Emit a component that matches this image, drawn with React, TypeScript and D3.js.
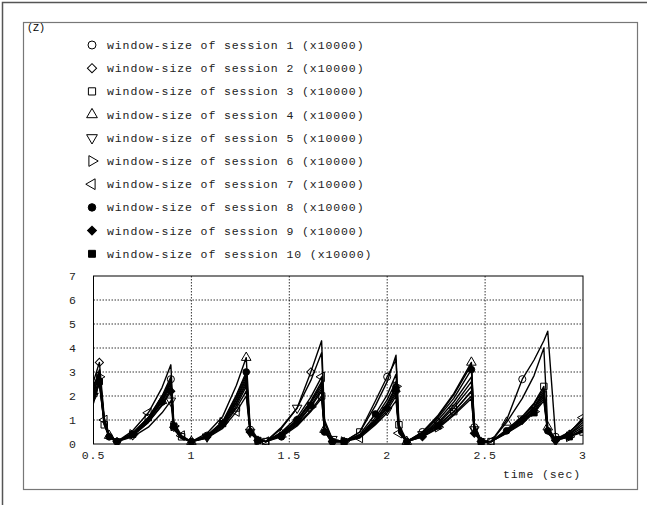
import * as d3 from "d3";

// sample times (sec), shared by all sessions
const times = [
  0.5, 0.53, 0.555, 0.58, 0.62, 0.7, 0.78, 0.85, 0.895, 0.91, 0.95, 1.0, 1.08, 1.16, 1.23, 1.28,
  1.3, 1.34, 1.38, 1.46, 1.54, 1.61, 1.665, 1.68, 1.72, 1.78, 1.86, 1.94, 2.0, 2.045, 2.06, 2.1,
  2.18, 2.26, 2.34, 2.43, 2.445, 2.48, 2.53, 2.61, 2.69, 2.75, 2.8, 2.82, 2.86, 2.93, 3.0,
];

// window sizes (x10000) per session
const session1 = [2.2, 2.9, 1.0, 0.3, 0.1, 0.45, 1.1, 1.95, 2.7, 0.8, 0.3, 0.1, 0.35, 0.9, 2.0, 2.9, 0.6, 0.15, 0.1, 0.45, 1.0, 1.8, 2.6, 0.6, 0.1, 0.1, 0.5, 1.8, 2.8, 3.5, 0.7, 0.1, 0.5, 1.15, 2.05, 3.3, 0.7, 0.1, 0.1, 1.0, 2.7, 3.5, 4.3, 4.7, 0.3, 0.3, 0.6];
const session2 = [2.6, 3.4, 1.1, 0.4, 0.1, 0.35, 0.9, 1.65, 2.3, 0.7, 0.25, 0.1, 0.3, 0.85, 1.75, 2.6, 0.5, 0.15, 0.1, 0.7, 1.5, 3.0, 4.3, 1.0, 0.2, 0.1, 0.3, 0.95, 1.55, 2.2, 0.5, 0.1, 0.4, 0.9, 1.6, 2.6, 0.6, 0.1, 0.1, 0.5, 1.0, 1.5, 2.1, 0.5, 0.15, 0.4, 0.9];
const session3 = [1.8, 2.6, 0.8, 0.3, 0.1, 0.45, 1.1, 2.0, 2.8, 0.8, 0.3, 0.1, 0.25, 0.7, 1.5, 2.2, 0.5, 0.15, 0.1, 0.35, 0.8, 1.4, 2.0, 0.5, 0.1, 0.1, 0.5, 1.6, 2.6, 3.7, 0.8, 0.15, 0.35, 0.8, 1.35, 2.2, 0.5, 0.1, 0.1, 0.6, 1.15, 1.7, 2.4, 0.6, 0.2, 0.3, 0.5];
const session4 = [2.4, 3.0, 1.0, 0.35, 0.1, 0.4, 1.0, 1.8, 2.5, 0.7, 0.3, 0.1, 0.45, 1.15, 2.45, 3.6, 0.7, 0.2, 0.1, 0.4, 0.95, 1.7, 2.4, 0.6, 0.1, 0.1, 0.35, 1.1, 1.85, 2.6, 0.6, 0.1, 0.5, 1.2, 2.1, 3.4, 0.8, 0.15, 0.1, 0.9, 1.9, 2.85, 4.0, 0.7, 0.2, 0.5, 1.0];
const session5 = [2.0, 2.7, 0.9, 0.3, 0.1, 0.3, 0.7, 1.3, 1.8, 0.6, 0.25, 0.1, 0.3, 0.75, 1.6, 2.4, 0.5, 0.15, 0.1, 0.65, 1.5, 2.65, 3.8, 0.9, 0.2, 0.1, 0.3, 0.85, 1.4, 2.0, 0.5, 0.1, 0.4, 1.0, 1.75, 2.8, 0.6, 0.1, 0.1, 0.55, 1.05, 1.55, 2.2, 0.5, 0.15, 0.35, 0.7];
const session6 = [2.5, 2.8, 0.9, 0.3, 0.1, 0.4, 1.05, 1.85, 2.6, 0.75, 0.3, 0.1, 0.35, 0.9, 1.9, 2.8, 0.55, 0.15, 0.1, 0.35, 0.85, 1.55, 2.2, 0.55, 0.1, 0.1, 0.35, 1.0, 1.7, 2.4, 0.55, 0.1, 0.3, 0.7, 1.25, 2.0, 0.5, 0.1, 0.1, 0.45, 0.9, 1.35, 1.9, 0.45, 0.15, 0.3, 0.6];
const session7 = [2.3, 3.1, 1.0, 0.35, 0.1, 0.55, 1.3, 2.35, 3.3, 0.9, 0.35, 0.1, 0.25, 0.65, 1.35, 2.0, 0.45, 0.15, 0.1, 0.5, 1.1, 1.95, 2.8, 0.7, 0.15, 0.1, 0.25, 0.8, 1.3, 1.8, 0.45, 0.1, 0.35, 0.85, 1.5, 2.4, 0.55, 0.1, 0.1, 0.5, 0.95, 1.4, 2.0, 0.5, 0.15, 0.45, 1.1];
const session8 = [1.9, 2.5, 0.8, 0.3, 0.1, 0.4, 0.95, 1.75, 2.4, 0.7, 0.25, 0.1, 0.35, 0.95, 2.05, 3.0, 0.6, 0.2, 0.1, 0.3, 0.75, 1.35, 1.9, 0.5, 0.1, 0.1, 0.4, 1.25, 2.05, 2.9, 0.65, 0.1, 0.45, 1.1, 1.9, 3.1, 0.7, 0.15, 0.1, 0.55, 1.1, 1.65, 2.3, 0.55, 0.2, 0.4, 0.8];
const session9 = [2.1, 2.9, 0.95, 0.3, 0.1, 0.35, 0.9, 1.6, 2.2, 0.65, 0.25, 0.1, 0.3, 0.8, 1.7, 2.5, 0.5, 0.15, 0.1, 0.45, 1.0, 1.75, 2.5, 0.6, 0.1, 0.1, 0.3, 0.9, 1.5, 2.1, 0.5, 0.1, 0.3, 0.65, 1.2, 1.9, 0.45, 0.1, 0.1, 0.5, 1.0, 1.5, 2.1, 0.5, 0.15, 0.5, 1.0];
const session10 = [1.7, 2.6, 0.85, 0.3, 0.1, 0.4, 1.05, 1.85, 2.6, 0.75, 0.3, 0.1, 0.3, 0.85, 1.85, 2.7, 0.55, 0.15, 0.1, 0.4, 0.9, 1.6, 2.3, 0.55, 0.1, 0.1, 0.3, 1.0, 1.65, 2.3, 0.55, 0.1, 0.35, 0.75, 1.35, 2.2, 0.5, 0.1, 0.1, 0.45, 0.85, 1.3, 1.8, 0.45, 0.15, 0.3, 0.55];

const sessions = [session1, session2, session3, session4, session5, session6, session7, session8, session9, session10];
const labels = sessions.map((_, i) => `window-size of session ${i + 1} (x10000)`);

const xTicks = [0.5, 1, 1.5, 2, 2.5, 3];
const yTicks = [0, 1, 2, 3, 4, 5, 6, 7];

// marker shape, rotation, filled, size
const markers: [d3.SymbolType, number, boolean, number][] = [
  [d3.symbolCircle, 0, false, 50],
  [d3.symbolSquare, 45, false, 42],
  [d3.symbolSquare, 0, false, 52],
  [d3.symbolTriangle, 0, false, 50],
  [d3.symbolTriangle, 180, false, 50],
  [d3.symbolTriangle, 90, false, 50],
  [d3.symbolTriangle, -90, false, 50],
  [d3.symbolCircle, 0, true, 44],
  [d3.symbolSquare, 45, true, 40],
  [d3.symbolSquare, 0, true, 48],
];

const font = "'Liberation Mono', 'DejaVu Sans Mono', monospace";

function Marker({ k, x, y, scale = 1 }: { k: number; x: number; y: number; scale?: number }) {
  const [type, rot, filled, size] = markers[k];
  const d = d3.symbol().type(type).size(size * scale)()!;
  return (
    <path
      d={d}
      transform={`translate(${x},${y}) rotate(${rot})`}
      fill={filled ? "#000" : "none"}
      stroke="#000"
      strokeWidth={1}
    />
  );
}

export default function App() {
  const width = 647;
  const height = 505;
  const x = d3.scaleLinear().domain([0.5, 3]).range([93.5, 583]);
  const y = d3.scaleLinear().domain([0, 7]).range([444, 276]);

  const line = d3
    .line<number>()
    .x((_, i) => x(times[i]))
    .y((d) => y(d));

  return (
    <svg
      width={width}
      height={height}
      style={{ position: "absolute", left: 0, top: 0, background: "#fff" }}
      fontFamily={font}
      fontSize={11.5}
    >
      {/* outer frame */}
      <rect x={2.5} y={2.5} width={660} height={520} fill="none" stroke="#555" strokeWidth={1.5} />
      {/* inner frame */}
      <rect x={23.5} y={22.5} width={614} height={467} fill="none" stroke="#777" strokeWidth={1.2} />

      <text x={27} y={31} fontSize={10}>(Z)</text>

      {/* legend */}
      {labels.map((l, i) => {
        const ly = 45 + i * 23.2;
        return (
          <g key={l}>
            <Marker k={i} x={92} y={ly} />
            <text x={107} y={ly + 4} fill="#222" letterSpacing={0.9}>
              {l}
            </text>
          </g>
        );
      })}

      {/* grid */}
      {xTicks.slice(1, -1).map((t) => (
        <line key={"gx" + t} x1={x(t)} x2={x(t)} y1={y(7)} y2={y(0)} stroke="#000" strokeWidth={0.8} strokeDasharray="1.5,1.5" />
      ))}
      {yTicks.slice(1, -1).map((t) => (
        <line key={"gy" + t} x1={x(0.5)} x2={x(3)} y1={y(t)} y2={y(t)} stroke="#000" strokeWidth={0.8} strokeDasharray="1.5,1.5" />
      ))}

      {/* tick labels */}
      {yTicks.map((t) => (
        <text key={"yl" + t} x={76} y={y(t) + 4} textAnchor="end" fill="#222">
          {t}
        </text>
      ))}
      {xTicks.map((t) => (
        <text key={"xl" + t} x={x(t)} y={459} textAnchor="middle" fill="#222" letterSpacing={0.9}>
          {t}
        </text>
      ))}
      <text x={581} y={478} textAnchor="end" fill="#222" letterSpacing={0.9}>
        time (sec)
      </text>

      {/* series */}
      <g clipPath="url(#plotclip)">
        <defs>
          <clipPath id="plotclip">
            <rect x={x(0.5)} y={y(7)} width={x(3) - x(0.5)} height={y(0) - y(7) + 1} />
          </clipPath>
        </defs>
        {sessions.map((s, k) => (
          <path key={"s" + k} d={line(s)!} fill="none" stroke="#000" strokeWidth={1.4} strokeLinejoin="round" />
        ))}
        {sessions.map((s, k) =>
          s.map((v, i) =>
            (i + k * 3) % 4 === 0 ? <Marker key={`m${k}-${i}`} k={k} x={x(times[i])} y={y(v)} scale={0.8} /> : null
          )
        )}
      </g>

      {/* plot frame */}
      <rect x={x(0.5)} y={y(7)} width={x(3) - x(0.5)} height={y(0) - y(7)} fill="none" stroke="#000" strokeWidth={1} />
    </svg>
  );
}
